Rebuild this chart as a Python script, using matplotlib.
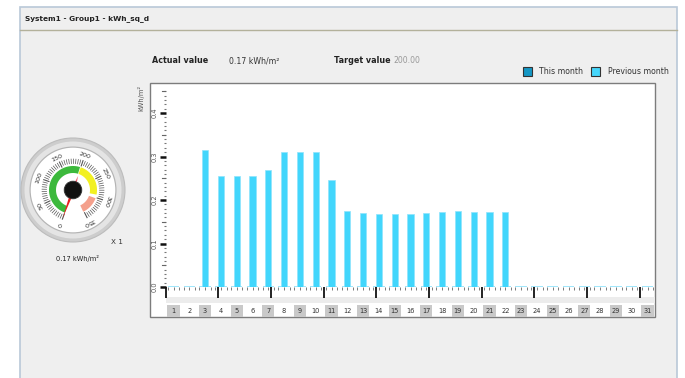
import numpy as np
import matplotlib
matplotlib.use("Agg")
import matplotlib.pyplot as plt
from matplotlib.patches import Rectangle, Circle, Polygon
from matplotlib.ticker import FixedLocator, MultipleLocator
import matplotlib.transforms as mtransforms

plt.rcParams['font.family'] = ['DejaVu Sans']

# ---- data ----
days = list(range(1, 32))
previous_month = [0.0, 0.0, 0.315, 0.255, 0.255, 0.255, 0.270, 0.310, 0.310, 0.310,
                  0.246, 0.175, 0.170, 0.167, 0.167, 0.167, 0.169, 0.172, 0.175, 0.172,
                  0.173, 0.173, 0.0, 0.0, 0.0, 0.0, 0.0, 0.0, 0.0, 0.0, 0.0]
this_month = [0.0] * 31
y_ticks = [0.0, 0.1, 0.2, 0.3, 0.4]
y_tick_labels = ["0.0", "0.1", "0.2", "0.3", "0.4"]
actual_value = 0.17
target_value = 200.00
unit = "kWh/m²"
gauge_max = 350
gauge_major = [0, 50, 100, 150, 200, 250, 300, 350]
gauge_bands = [(0, 198, "#3cb93c"), (200, 292, "#f2f022"), (302, 352, "#f4a08c")]

W, H = 685, 378
fig = plt.figure(figsize=(W / 100, H / 100), dpi=100)
fig.patch.set_facecolor("white")

# background canvas in pixel units
bg = fig.add_axes([0, 0, 1, 1])
bg.set_xlim(0, W)
bg.set_ylim(H, 0)
bg.axis("off")

bg.add_patch(Rectangle((20, 7), 657, 380, fc="#efefef", ec="#b9c8d8", lw=1.2, zorder=0))
bg.plot([20, 677], [30, 30], color="#b3b19b", lw=1, zorder=1)
bg.text(25, 18.5, "System1 - Group1 - kWh_sq_d", fontsize=5.3, fontweight="bold",
        color="#222222", va="center", ha="left")

# header line
bg.text(152, 60.5, "Actual value", fontsize=5.8, fontweight="bold", color="#222222", va="center")
bg.text(229, 60.5, f"{actual_value:.2f} {unit}", fontsize=5.6, color="#333333", va="center")
bg.text(334, 60.5, "Target value", fontsize=5.8, fontweight="bold", color="#222222", va="center")
bg.text(393, 60.5, f"{target_value:.2f}", fontsize=5.6, color="#999999", va="center")

# legend
bg.add_patch(Rectangle((523, 66.5), 9.5, 9.5, fc="#1597c4", ec="#333333", lw=0.8))
bg.text(539, 71.5, "This month", fontsize=5.6, color="#333333", va="center")
bg.add_patch(Rectangle((591, 66.5), 9.5, 9.5, fc="#46d6fb", ec="#333333", lw=0.8))
bg.text(608, 71.5, "Previous month", fontsize=5.6, color="#333333", va="center")

# white plot frame
bg.add_patch(Rectangle((150.5, 82.5), 505, 234.5, fc="white", ec="#7c7c7c", lw=1, zorder=1))
bg.text(141, 98, unit, fontsize=4.8, color="#555555", rotation=90, ha="center", va="center")

# ---- gauge ----
cx, cy = 73, 190


def ang(v):
    return np.radians(250 - v * (313 / gauge_max))


def pt(v, r):
    a = ang(v)
    return cx + r * np.cos(a), cy - r * np.sin(a)


bg.add_patch(Circle((cx, cy), 52, fc="#cdcdcd", ec="#bcbcbc", lw=0.8, zorder=2))
bg.add_patch(Circle((cx, cy), 48.5, fc="#e4e4e4", ec="none", zorder=2))
bg.add_patch(Circle((cx, cy), 43.5, fc="#b4b4b4", ec="none", zorder=2))
bg.add_patch(Circle((cx, cy), 42.3, fc="white", ec="none", zorder=2))

for v0, v1, col in gauge_bands:
    vs = np.linspace(v0, v1, 60)
    outer = [pt(v, 24) for v in vs]
    inner = [pt(v, 17) for v in vs[::-1]]
    bg.add_patch(Polygon(outer + inner, closed=True, fc=col, ec="none", zorder=3))

for v in np.arange(0, gauge_max + 1, 5):
    major = v % 50 == 0
    r0 = 25.5 if major else 26.5
    x0, y0 = pt(v, r0)
    x1, y1 = pt(v, 31)
    bg.plot([x0, x1], [y0, y1], color="#555555", lw=0.8 if major else 0.5, zorder=3)

for v in gauge_major:
    x, y = pt(v, 36)
    rot = np.degrees(ang(v)) - 90
    bg.text(x, y, str(v), fontsize=4.6, color="#333333", rotation=rot,
            rotation_mode="anchor", ha="center", va="center", zorder=4)

# needle
a = ang(actual_value)
tip = (cx + 30 * np.cos(a), cy - 30 * np.sin(a))
perp = np.array([-np.sin(a), -np.cos(a)])
base = np.array([cx, cy])
needle = [tip, tuple(base + perp * 1.8), tuple(base - perp * 1.8)]
bg.add_patch(Polygon(needle, closed=True, fc="#e8201e", ec="none", zorder=5))
tail = (cx - 15 * np.cos(a), cy + 15 * np.sin(a))
bg.add_patch(Polygon([tail, tuple(base + perp * 2.2), tuple(base - perp * 2.2)],
                     closed=True, fc="#f06272", ec="none", zorder=5))
bg.add_patch(Circle((cx, cy), 8.8, fc="#111111", ec="#333333", lw=0.6, zorder=6))

bg.text(117, 242, "X 1", fontsize=5.2, color="#333333", ha="center", va="center")
bg.text(78, 258, f"{actual_value:.2f} {unit}", fontsize=4.8, color="#222222",
        ha="center", va="center")

# ---- bar chart ----
x_left, x_right = 165.6, 655.4
y_zero, y_top = 287.0, 91.0
ymax = 0.4506
ax = fig.add_axes([x_left / W, (H - y_zero) / H, (x_right - x_left) / W, (y_zero - y_top) / H])
ax.set_facecolor("none")
ax.set_xlim(0.5, 31.5)
ax.set_ylim(0, ymax)
for s in ax.spines.values():
    s.set_visible(False)

# baseline segments for each day
ax.hlines([0] * len(days), [d - 0.36 for d in days], [d + 0.36 for d in days],
          color="#9fe6fb", lw=1.4, zorder=2)
ax.bar(days, this_month, width=0.38, color="#1597c4", zorder=3)
ax.bar(days, previous_month, width=0.38, color="#42d6fc", edgecolor="#8fe4fc",
       linewidth=0.5, zorder=3)

# y axis
ax.set_yticks(y_ticks)
ax.set_yticklabels(y_tick_labels)
ax.yaxis.set_minor_locator(MultipleLocator(0.01))
ax.tick_params(axis="y", which="major", length=4, width=1.8, color="#111111",
               labelsize=4.8, labelcolor="#555555", labelrotation=90, pad=2)
ax.tick_params(axis="y", which="minor", length=1.3, width=0.8, color="#777777")
trans_y = mtransforms.blended_transform_factory(ax.transAxes, ax.transData)
for v in np.arange(0.05, ymax, 0.1):
    ax.plot([-0.008, -0.001], [v, v], color="#666666", lw=0.8, transform=trans_y, clip_on=False)
for lab in ax.get_yticklabels():
    lab.set_va("center")

# x axis
ax.set_xticks(np.arange(0.5, 31.5, 10 / 3))
ax.set_xticklabels([])
minor_pos = sorted([d - 0.36 for d in days] + [d for d in days] + [d + 0.36 for d in days])
ax.xaxis.set_minor_locator(FixedLocator(minor_pos))
ax.tick_params(axis="x", which="major", length=8, width=1.3, color="#111111")
ax.tick_params(axis="x", which="minor", length=2.5, width=0.6, color="#666666")

# day label row
ax.add_patch(Rectangle((0.5, -0.037), 31, 0.014, fc="#ececec", ec="none", clip_on=False))
for d in days:
    if d % 2 == 1:
        ax.add_patch(Rectangle((d - 0.38, -0.069), 0.76, 0.028, fc="#c9c9c9", ec="none",
                               clip_on=False))
    ax.text(d, -0.055, str(d), fontsize=4.8, color="#333333", ha="center", va="center",
            clip_on=False)

fig.savefig("out.png", dpi=100, facecolor=fig.get_facecolor())
